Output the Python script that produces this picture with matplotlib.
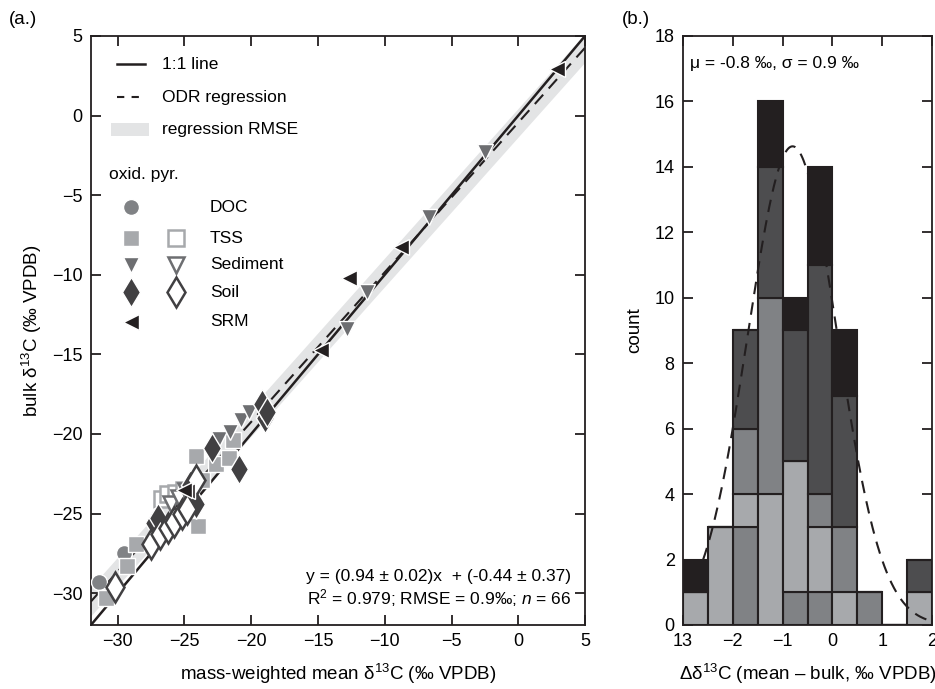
import numpy as np
import matplotlib
matplotlib.use("Agg")
import matplotlib.pyplot as plt
from matplotlib.patches import Rectangle

plt.rcParams['font.family'] = ['Liberation Sans', 'DejaVu Sans']
plt.rcParams['mathtext.fontset'] = 'custom'
plt.rcParams['mathtext.rm'] = 'Liberation Sans'
plt.rcParams['mathtext.it'] = 'Liberation Sans:italic'

# --- scatter data (mass-weighted mean vs bulk d13C) ---
doc_x = [-31.4, -29.5]
doc_y = [-29.3, -27.5]

tss_ox_x = [-30.9, -29.3, -28.6, -24.1, -23.7, -24.0, -22.6, -21.7, -21.4]
tss_ox_y = [-30.3, -28.3, -26.9, -21.4, -22.9, -25.8, -21.9, -21.5, -20.4]
tss_py_x = [-26.7, -26.2, -25.6, -25.0]
tss_py_y = [-24.1, -23.8, -23.7, -23.5]

sed_ox_x = [-22.4, -21.6, -20.8, -20.2, -12.8, -11.3, -6.7, -2.5]
sed_ox_y = [-20.3, -19.9, -19.1, -18.6, -13.4, -11.1, -6.4, -2.3]
sed_py_x = [-26.0, -25.4, -24.9]
sed_py_y = [-24.4, -24.0, -23.6]

soil_ox_x = [-27.3, -27.0, -24.1, -24.6, -22.9, -20.9, -19.0, -19.2, -18.8]
soil_ox_y = [-25.6, -25.3, -24.4, -23.2, -20.9, -22.2, -19.0, -18.1, -18.6]
soil_py_x = [-30.2, -27.5, -26.8, -26.2, -25.8, -25.2, -24.8, -24.1]
soil_py_y = [-29.6, -26.9, -26.3, -25.9, -25.5, -25.0, -24.7, -22.9]

srm_x = [2.9, -8.8, -12.7, -14.8, -24.8, -25.0]
srm_y = [2.9, -8.25, -10.2, -14.75, -23.6, -23.5]

odr_slope, odr_int, rmse = 0.94, -0.44, 0.9

# --- histogram data (stacked counts per 0.5 permil bin) ---
bin_left = [-3.0, -2.5, -2.0, -1.5, -1.0, -0.5, 0.0, 0.5, 1.0, 1.5]
cnt_doc = [0, 0, 3, 0, 1, 1, 0, 0, 0, 0]
cnt_tss = [1, 3, 1, 4, 4, 2, 1, 0, 0, 1]
cnt_sed = [0, 0, 2, 6, 0, 1, 2, 1, 0, 0]
cnt_soil = [0, 0, 3, 4, 4, 7, 4, 0, 0, 1]
cnt_srm = [1, 0, 0, 2, 1, 3, 2, 0, 0, 0]
mu, sigma, n_tot = -0.8, 0.9, 66

C_DOC = '#808285'
C_TSS = '#a7a9ac'
C_SED = '#6d6e71'
C_SOIL = '#414042'
C_SRM = '#231f20'

fig = plt.figure(figsize=(9.35, 6.89), dpi=100)
ax1 = fig.add_axes([0.0973, 0.0929, 0.5284, 0.8549])
ax2 = fig.add_axes([0.7305, 0.0929, 0.2663, 0.8549])

for ax in (ax1, ax2):
    ax.tick_params(direction='in', length=7, width=1.3, labelsize=13,
                   top=True, right=True, pad=6, color='#231f20')
    for s in ax.spines.values():
        s.set_linewidth(1.3)
        s.set_color('#231f20')

# --- panel a ---
xx = np.array([-32, 5])
yreg = odr_slope * xx + odr_int
ax1.fill_between(xx, yreg - rmse, yreg + rmse, color='#e3e4e5', lw=0, zorder=1)
ax1.plot(xx, xx, color='#231f20', lw=1.8, zorder=2)
ax1.plot(xx, yreg, color='#231f20', lw=1.5, ls=(0, (6, 4)), zorder=2)

ms = 11.5
msd = 15
ax1.plot(doc_x, doc_y, 'o', ms=ms, mfc=C_DOC, mec='white', mew=1, ls='none', zorder=4)
ax1.plot(tss_ox_x, tss_ox_y, 's', ms=ms, mfc=C_TSS, mec='white', mew=1, ls='none', zorder=4)
ax1.plot(tss_py_x, tss_py_y, 's', ms=ms, mfc='white', mec=C_TSS, mew=1.8, ls='none', zorder=4)
ax1.plot(sed_ox_x, sed_ox_y, 'v', ms=ms, mfc=C_SED, mec='white', mew=1, ls='none', zorder=4)
ax1.plot(sed_py_x, sed_py_y, 'v', ms=ms, mfc='white', mec=C_SED, mew=1.8, ls='none', zorder=4)
ax1.plot(soil_ox_x, soil_ox_y, 'd', ms=msd, mfc=C_SOIL, mec='white', mew=1, ls='none', zorder=4)
ax1.plot(soil_py_x, soil_py_y, 'd', ms=msd, mfc='white', mec=C_SOIL, mew=1.8, ls='none', zorder=5)
ax1.plot(srm_x, srm_y, '<', ms=ms, mfc=C_SRM, mec='white', mew=1, ls='none', zorder=5)

ax1.set_xlim(-32, 5)
ax1.set_ylim(-32, 5)
ax1.set_xticks([-30, -25, -20, -15, -10, -5, 0, 5])
ax1.set_yticks([-30, -25, -20, -15, -10, -5, 0, 5])
ax1.set_xlabel('mass-weighted mean δ$^{13}$C (‰ VPDB)', fontsize=13.5, labelpad=8)
ax1.set_ylabel('bulk δ$^{13}$C (‰ VPDB)', fontsize=13.5, labelpad=6)

# manual legend
T = ax1.transAxes
ax1.plot([0.053, 0.109], [0.952, 0.952], color='#231f20', lw=1.8, transform=T)
ax1.text(0.144, 0.952, '1:1 line', transform=T, fontsize=12.5, va='center')
ax1.plot([0.053, 0.109], [0.896, 0.896], color='#231f20', lw=1.5, ls=(0, (3.5, 3.5)), transform=T)
ax1.text(0.144, 0.896, 'ODR regression', transform=T, fontsize=12.5, va='center')
ax1.add_patch(Rectangle((0.040, 0.831), 0.077, 0.022, transform=T, color='#e3e4e5', lw=0))
ax1.text(0.144, 0.842, 'regression RMSE', transform=T, fontsize=12.5, va='center')
ax1.text(0.036, 0.764, 'oxid. pyr.', transform=T, fontsize=12.5, va='center')
rows = [('DOC', 0.709, 'o', C_DOC, ms, False),
        ('TSS', 0.657, 's', C_TSS, ms, True),
        ('Sediment', 0.612, 'v', C_SED, ms, True),
        ('Soil', 0.565, 'd', C_SOIL, msd, True),
        ('SRM', 0.515, '<', C_SRM, ms, False)]
for name, fy, mk, col, msz, has_pyr in rows:
    ax1.plot(0.081, fy, mk, ms=msz, mfc=col, mec='white', mew=1, transform=T)
    if has_pyr:
        ax1.plot(0.172, fy, mk, ms=msz, mfc='white', mec=col, mew=1.8, transform=T)
    ax1.text(0.241, fy, name, transform=T, fontsize=12.5, va='center')

ax1.text(0.972, 0.083, 'y = (0.94 ± 0.02)x  + (-0.44 ± 0.37)', transform=T,
         fontsize=12.5, ha='right', va='center')
ax1.text(0.972, 0.046, 'R$^2$ = 0.979; RMSE = 0.9‰; $n$ = 66', transform=T,
         fontsize=12.5, ha='right', va='center')

# --- panel b ---
bottom = np.zeros(len(bin_left))
for cnt, col in [(cnt_doc, C_DOC), (cnt_tss, C_TSS), (cnt_sed, C_DOC),
                 (cnt_soil, '#4d4d4f'), (cnt_srm, C_SRM)]:
    cnt = np.array(cnt)
    ax2.bar(bin_left, cnt, width=0.5, bottom=bottom, align='edge', color=col,
            edgecolor='#231f20', linewidth=1.5, zorder=2)
    bottom += cnt

xg = np.linspace(-2.75, 2.0, 200)
yg = n_tot * 0.5 / (sigma * np.sqrt(2 * np.pi)) * np.exp(-0.5 * ((xg - mu) / sigma) ** 2)
ax2.plot(xg, yg, color='#231f20', lw=1.5, ls=(0, (6, 4)), zorder=3)

ax2.set_xlim(-3, 2)
ax2.set_ylim(0, 18)
ax2.set_xticks([-3, -2, -1, 0, 1, 2])
ax2.set_xticklabels(['13', '−2', '−1', '0', '1', '2'])
ax2.set_yticks(range(0, 19, 2))
ax2.set_ylabel('count', fontsize=13.5, labelpad=8)
ax2.set_xlabel('Δδ$^{13}$C (mean – bulk, ‰ VPDB)', fontsize=13.5, labelpad=8)
ax2.text(0.03, 0.954, 'μ = -0.8 ‰, σ = 0.9 ‰', transform=ax2.transAxes,
         fontsize=12.5, va='center')

fig.text(0.009, 0.965, '(a.)', fontsize=13.5)
fig.text(0.665, 0.965, '(b.)', fontsize=13.5)

fig.savefig('out.png', dpi=100)
